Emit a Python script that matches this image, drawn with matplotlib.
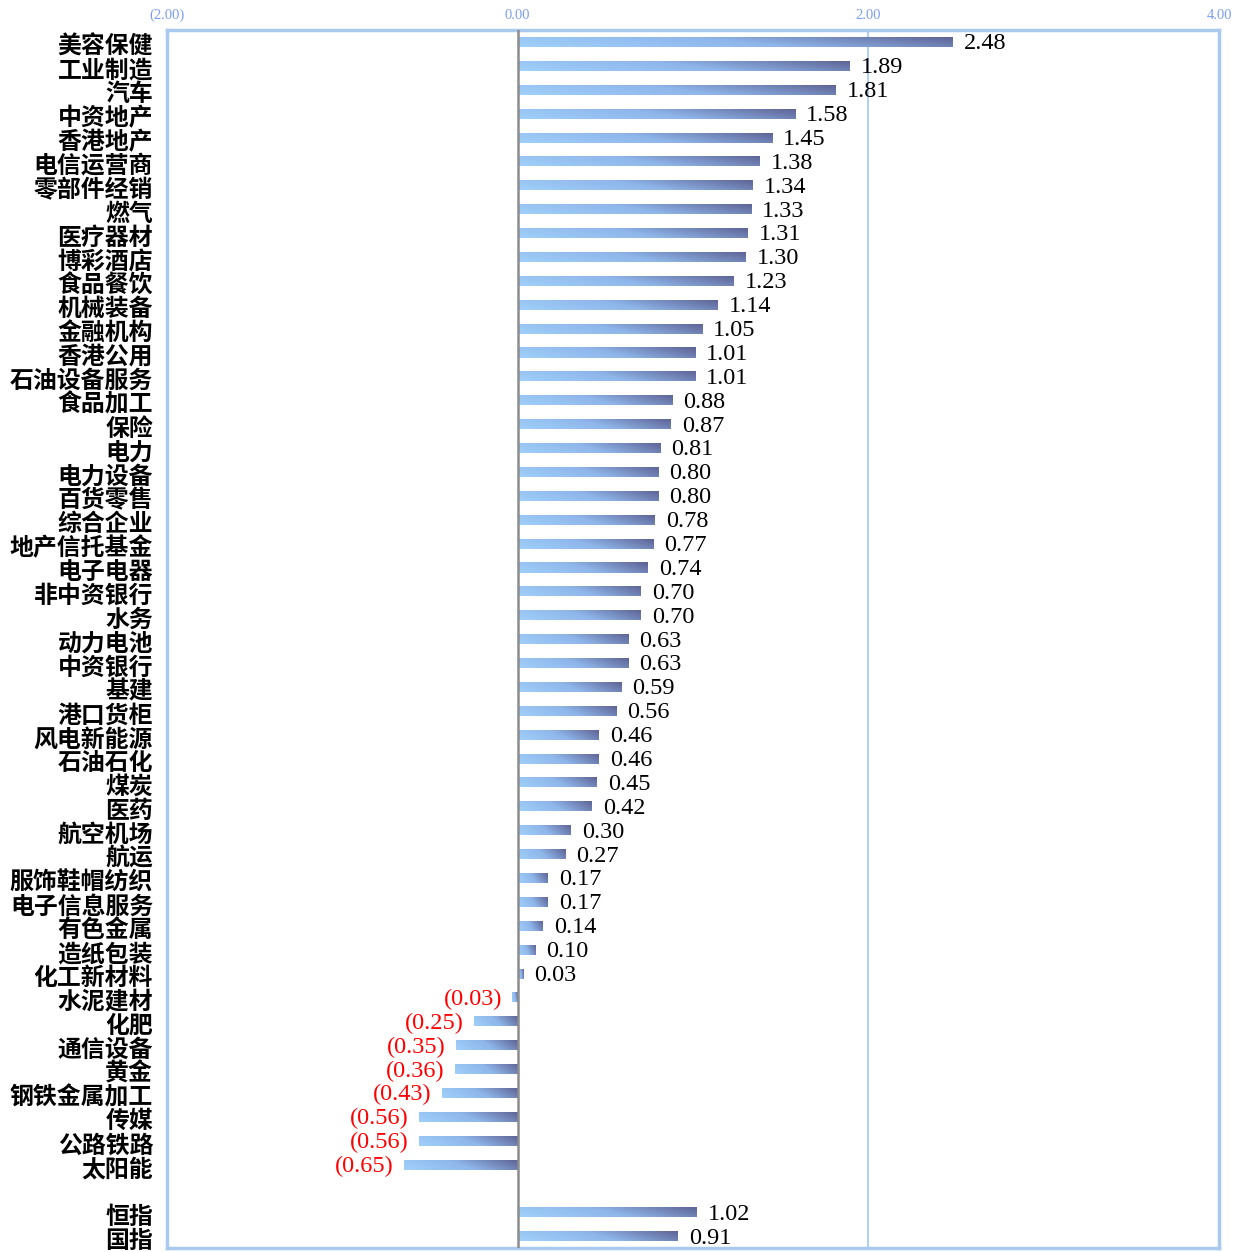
import numpy as np
import matplotlib
matplotlib.use("Agg")
import matplotlib.pyplot as plt
import matplotlib.transforms as mtransforms
from matplotlib.colors import LinearSegmentedColormap

# 行业数据
sectors = ["美容保健", "工业制造", "汽车", "中资地产", "香港地产", "电信运营商", "零部件经销",
           "燃气", "医疗器材", "博彩酒店", "食品餐饮", "机械装备", "金融机构", "香港公用",
           "石油设备服务", "食品加工", "保险", "电力", "电力设备", "百货零售", "综合企业",
           "地产信托基金", "电子电器", "非中资银行", "水务", "动力电池", "中资银行", "基建",
           "港口货柜", "风电新能源", "石油石化", "煤炭", "医药", "航空机场", "航运",
           "服饰鞋帽纺织", "电子信息服务", "有色金属", "造纸包装", "化工新材料", "水泥建材",
           "化肥", "通信设备", "黄金", "钢铁金属加工", "传媒", "公路铁路", "太阳能"]
sector_values = [2.48, 1.89, 1.81, 1.58, 1.45, 1.38, 1.34, 1.33, 1.31, 1.30, 1.23, 1.14,
                 1.05, 1.01, 1.01, 0.88, 0.87, 0.81, 0.80, 0.80, 0.78, 0.77, 0.74, 0.70,
                 0.70, 0.63, 0.63, 0.59, 0.56, 0.46, 0.46, 0.45, 0.42, 0.30, 0.27, 0.17,
                 0.17, 0.14, 0.10, 0.03, -0.03, -0.25, -0.35, -0.36, -0.43, -0.56, -0.56, -0.65]
index_names = ["恒指", "国指"]
index_values = [1.02, 0.91]

x_ticks = [-2, 0, 2, 4]
x_tick_labels = ["(2.00)", "0.00", "2.00", "4.00"]

labels = sectors + index_names
values = sector_values + index_values
ypos = list(range(len(sectors))) + [len(sectors) + 1, len(sectors) + 2]

fig = plt.figure(figsize=(12.37, 12.52), dpi=100)
ax = fig.add_axes([0.135, 0.003, 0.8505, 0.973])

bars = ax.barh(ypos, values, height=0.42, color="none", edgecolor="none", zorder=2)

# 渐变填充
cmap = LinearSegmentedColormap.from_list("grad", ["#9fd0fa", "#8fb6ea", "#5d6193"])
gx = np.linspace(0, 1, 128)[None, :]
gy = np.linspace(0, 1, 16)[:, None]
img = 0.8 * gx + 0.2 * gy
for bar in bars:
    x0 = min(bar.get_x(), bar.get_x() + bar.get_width())
    x1 = max(bar.get_x(), bar.get_x() + bar.get_width())
    y0 = bar.get_y()
    h = bar.get_height()
    im = ax.imshow(img, cmap=cmap, vmin=0, vmax=1, extent=(x0, x1, y0 + h, y0),
                   origin="lower", aspect="auto", interpolation="bilinear", zorder=2)
    im.set_clip_path(bar)

# 数值标签
for y, v in zip(ypos, values):
    if v >= 0:
        ax.text(v + 0.065, y + 0.08, f"{v:.2f}", ha="left", va="center", fontsize=17.5,
                family="Liberation Serif", color="black")
    else:
        ax.text(v - 0.06, y + 0.08, f"({abs(v):.2f})", ha="right", va="center", fontsize=17.5,
                family="Liberation Serif", color="red")

ax.axvline(2, color="#b3d0f2", lw=1.5, zorder=1)
ax.axvline(0, color="#8c8c8c", lw=1.8, zorder=3)

ax.set_xlim(-2, 4)
ax.set_ylim(len(sectors) + 2.5, -0.5)

ax.xaxis.tick_top()
ax.set_xticks(x_ticks)
ax.set_xticklabels(x_tick_labels, fontsize=10.5, color="#7d9ef0", family="Liberation Serif")
ax.tick_params(axis="x", length=0, pad=6)

ax.set_yticks(ypos)
ax.set_yticklabels(labels, fontsize=17.2, fontweight="bold", family=["Noto Sans CJK SC", "DejaVu Sans"])
ax.tick_params(axis="y", length=0, pad=10)
shift = mtransforms.ScaledTranslation(0, -2 / 100, fig.dpi_scale_trans)
for t in ax.get_yticklabels():
    t.set_transform(t.get_transform() + shift)

for s in ax.spines.values():
    s.set_color("#a9c9ef")
    s.set_linewidth(2.5)

fig.savefig("out.png", dpi=100)
